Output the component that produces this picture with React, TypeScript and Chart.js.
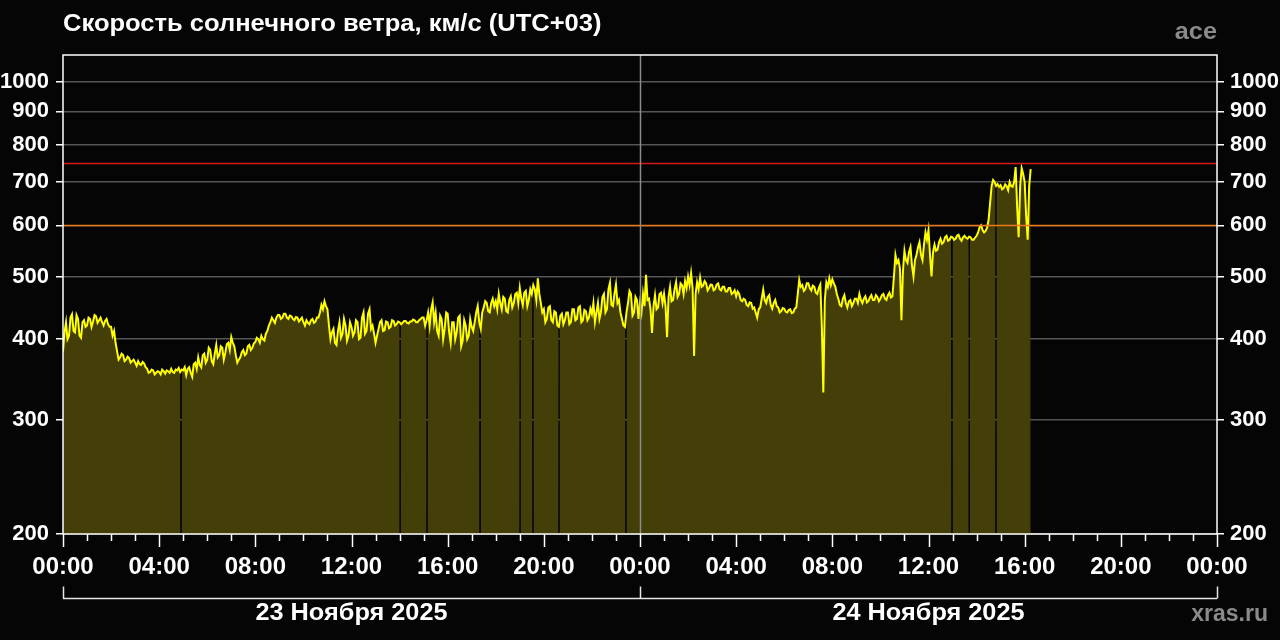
import React, { useEffect, useRef } from 'react';
import { Chart, registerables } from 'chart.js';

Chart.register(...registerables);

// ---- data ----
const chartTitle = 'Скорость солнечного ветра, км/с (UTC+03)';
const sourceLabel = 'ace';
const siteLabel = 'xras.ru';
const dayLabels = ['23 Ноября 2025', '24 Ноября 2025'];

// sample spacing in hours, first sample at 23 Nov 00:00 (UTC+03)
const stepHours = 0.0625;

// solar wind speed, km/s (16 samples per hour, one row per hour)
const speed = [
  383, 410, 425, 400, 405, 432, 437, 412, 410, 436, 430, 405, 402, 425, 428, 418,
  420, 432, 430, 418, 426, 436, 434, 424, 428, 432, 425, 420, 427, 430, 422, 418,
  418, 405, 412, 395, 383, 372, 375, 380, 378, 370, 372, 376, 374, 368, 370, 372,
  368, 364, 370, 366, 365, 369, 367, 362, 360, 355, 356, 359, 358, 353, 355, 357,
  356, 353, 359, 357, 354, 358, 357, 355, 360, 356, 355, 359, 358, 361, 356, 359,
  358, 362, 352, 360, 362, 355, 350, 366, 368, 360, 375, 365, 362, 378, 380, 368,
  372, 388, 385, 370, 366, 380, 392, 375, 378, 390, 388, 372, 381, 393, 395, 385,
  403, 395, 390, 378, 368, 372, 375, 382, 385, 378, 380, 390, 392, 385, 388, 394,
  396, 402, 400, 395, 405, 400, 398, 408, 412, 420, 425, 432, 428, 424, 432, 436,
  436, 430, 432, 438, 438, 432, 430, 435, 434, 430, 428, 433, 432, 426, 429, 432,
  425, 420, 428, 424, 422, 428, 430, 424, 426, 432, 432, 440, 452, 445, 458, 450,
  445, 420, 400, 410, 415, 395, 392, 412, 425, 402, 408, 430, 420, 398, 405, 425,
  418, 405, 410, 428, 425, 400, 402, 432, 440, 408, 412, 438, 445, 415, 420, 408,
  395, 405, 415, 425, 428, 412, 413, 426, 425, 416, 418, 428, 427, 420, 422, 426,
  425, 422, 424, 427, 427, 424, 423, 426, 426, 429, 428, 425, 425, 428, 430, 432,
  432, 420, 428, 440, 420, 445, 456, 425, 440, 412, 405, 435, 430, 400, 415, 440,
  438, 410, 395, 425, 425, 400, 410, 432, 435, 390, 398, 428, 420, 400, 405, 430,
  418, 412, 425, 440, 450, 425, 415, 440, 448, 458, 455, 442, 440, 455, 462, 450,
  458, 445, 470, 455, 445, 465, 462, 442, 440, 460, 466, 448, 455, 470, 472, 455,
  480, 462, 452, 472, 475, 450, 460, 478, 470, 485, 478, 460, 497, 470, 455, 440,
  445, 425, 430, 448, 450, 428, 425, 442, 440, 420, 418, 435, 438, 422, 428, 440,
  440, 422, 425, 445, 445, 428, 430, 448, 450, 425, 428, 444, 442, 428, 432, 446,
  438, 455, 425, 440, 455, 430, 440, 465, 470, 440, 445, 478, 489, 452, 450, 470,
  486, 455, 460, 440, 430, 420, 418, 440, 455, 475, 470, 435, 440, 465, 460, 430,
  455, 440, 470, 450, 503, 460, 462, 445, 409, 450, 468, 445, 448, 470, 472, 455,
  470, 450, 403, 465, 482, 458, 460, 478, 490, 465, 470, 488, 485, 470, 492, 480,
  500, 485, 506, 480, 377, 470, 490, 478, 498, 482, 484, 492, 488, 476, 480, 486,
  485, 476, 478, 486, 488, 478, 476, 482, 482, 474, 474, 480, 480, 470, 472, 476,
  466, 474, 470, 460, 458, 462, 460, 452, 450, 456, 455, 446, 448, 440, 432, 445,
  448, 462, 477, 460, 455, 465, 468, 452, 446, 455, 460, 450, 448, 440, 442, 447,
  446, 441, 440, 444, 445, 439, 440, 446, 448, 470, 494, 482, 485, 475, 478, 488,
  488, 480, 476, 484, 482, 472, 470, 480, 486, 420, 331, 460, 490, 482, 497, 485,
  495, 488, 482, 470, 462, 452, 450, 462, 468, 455, 448, 458, 460, 450, 455, 462,
  462, 455, 470, 460, 455, 462, 466, 456, 458, 464, 468, 460, 460, 468, 465, 458,
  462, 468, 470, 462, 460, 468, 472, 464, 466, 500, 540, 525, 530, 515, 428, 510,
  548, 530, 525, 545, 555, 520, 500, 530, 540, 555, 565, 540, 530, 560, 585, 570,
  590, 540, 500, 545, 560, 548, 550, 565, 572, 562, 565, 575, 578, 568, 570, 576,
  575, 570, 572, 578, 580, 572, 568, 575, 578, 574, 572, 576, 575, 570, 570, 574,
  578, 585, 596, 600, 590, 585, 588, 595, 612, 650, 690, 705, 700, 690, 695, 688,
  692, 682, 685, 694, 690, 680, 700, 690, 688, 700, 738, 640, 575, 690, 735, 720,
  700, 620, 570, 690, 733,
];

// hours (from 23 Nov 00:00) where data is missing
const gapHours = [4.91, 14.02, 15.14, 17.35, 19.01, 19.55, 20.63, 23.42, 36.98, 37.69, 38.81];

const yTickValues = [200, 300, 400, 500, 600, 700, 800, 900, 1000];
const xLabelHours = [0, 4, 8, 12, 16, 20, 24, 28, 32, 36, 40, 44, 48];
const thresholdValues = [600, 750];

// ---- styles ----
const FONT = '"Liberation Sans", Arial, sans-serif';
const BG = '#050505';
const FILL = 'rgb(68,62,8)';
const LINE = '#ffff00';
const GRID = '#555555';
const THRESH_COLORS = ['rgb(235,120,20)', 'rgb(215,25,25)'];
const GAP_HALF = 0.025; // half-width of a data gap, hours

const pad2 = (n: number) => (n < 10 ? '0' + n : String(n));

function stretchedText(ctx: CanvasRenderingContext2D, text: string, x: number, y: number, align: 'left' | 'right' | 'center', sx: number) {
  ctx.save();
  ctx.translate(x, y);
  ctx.scale(sx, 1);
  ctx.textAlign = align;
  ctx.textBaseline = 'middle';
  ctx.fillText(text, 0, 0);
  ctx.restore();
}

const decorPlugin = {
  id: 'decor',
  afterDatasetsDraw(chart: any) {
    const { ctx, chartArea: a, scales } = chart;
    const ys = scales.y;
    const xs = scales.x;
    ctx.save();
    thresholdValues.forEach((v, i) => {
      const py = Math.round(ys.getPixelForValue(v)) + 0.5;
      ctx.strokeStyle = THRESH_COLORS[i];
      ctx.lineWidth = 1.5;
      ctx.beginPath();
      ctx.moveTo(a.left, py);
      ctx.lineTo(a.right, py);
      ctx.stroke();
    });
    const mx = Math.round(xs.getPixelForValue(24)) + 0.5;
    ctx.strokeStyle = '#8c8c8c';
    ctx.lineWidth = 1.5;
    ctx.beginPath();
    ctx.moveTo(mx, a.top);
    ctx.lineTo(mx, a.bottom);
    ctx.stroke();
    ctx.strokeStyle = '#ffffff';
    ctx.lineWidth = 1.5;
    ctx.strokeRect(a.left, a.top, a.right - a.left, a.bottom - a.top);
    ctx.restore();
  },
  afterDraw(chart: any) {
    const { ctx, chartArea: a, scales } = chart;
    const xs = scales.x;
    ctx.save();
    ctx.strokeStyle = '#ffffff';
    ctx.lineWidth = 1.5;
    for (let h = 0; h <= 48; h++) {
      const px = Math.round(xs.getPixelForValue(h)) + 0.5;
      const len = h % 4 === 0 ? 13 : 7;
      ctx.beginPath();
      ctx.moveTo(px, a.bottom);
      ctx.lineTo(px, a.bottom + len);
      ctx.stroke();
    }
    const by = 598.5;
    ctx.strokeStyle = '#e6e6e6';
    ctx.beginPath();
    ctx.moveTo(xs.getPixelForValue(0), by);
    ctx.lineTo(xs.getPixelForValue(48), by);
    [0, 24, 48].forEach((h) => {
      const px = Math.round(xs.getPixelForValue(h)) + 0.5;
      ctx.moveTo(px, by);
      ctx.lineTo(px, by - 12);
    });
    ctx.stroke();
    ctx.fillStyle = '#ffffff';
    ctx.font = `bold 23px ${FONT}`;
    dayLabels.forEach((t, i) => {
      stretchedText(ctx, t, xs.getPixelForValue(12 + 24 * i), 614, 'center', 1.1);
    });
    stretchedText(ctx, chartTitle, a.left, 25, 'left', 1.11);
    ctx.fillStyle = '#8a8a8a';
    stretchedText(ctx, sourceLabel, a.right, 33, 'right', 1.1);
    stretchedText(ctx, siteLabel, 1268, 615, 'right', 1.0);
    ctx.restore();
  },
};

export default function App() {
  const ref = useRef<HTMLCanvasElement | null>(null);
  useEffect(() => {
    if (!ref.current) return;
    const linePts = speed.map((v, k) => ({ x: k * stepHours, y: v }));
    // area: break at each gap, holding the neighbouring readings up to the gap edges
    const fillPts: { x: number; y: number | null }[] = [];
    linePts.forEach((p, k) => {
      fillPts.push(p);
      const next = linePts[k + 1];
      if (!next) return;
      gapHours
        .filter((g) => g > p.x && g < next.x)
        .forEach((g) => {
          fillPts.push({ x: g - GAP_HALF, y: p.y });
          fillPts.push({ x: g, y: null });
          fillPts.push({ x: g + GAP_HALF, y: next.y });
        });
    });

    const yAxis = (position: 'left' | 'right', onArea: boolean, padding: number) => ({
      type: 'logarithmic' as const,
      position,
      min: 200,
      max: 1100,
      afterBuildTicks: (s: any) => {
        s.ticks = yTickValues.map((v) => ({ value: v }));
      },
      afterFit: (s: any) => {
        s.width = 63;
      },
      border: { display: false },
      grid: {
        drawOnChartArea: onArea,
        color: GRID,
        lineWidth: 1.5,
        tickColor: '#ffffff',
        tickLength: 7,
        tickWidth: 1.5,
      },
      ticks: {
        color: '#ffffff',
        font: { family: FONT, size: 22, weight: 'bold' as const },
        padding,
        autoSkip: false,
        callback: (v: any) => String(v),
      },
    });

    const chart = new Chart(ref.current, {
      type: 'line',
      data: {
        datasets: [
          {
            label: 'speed',
            data: linePts,
            borderColor: LINE,
            borderWidth: 2,
            pointRadius: 0,
            fill: false,
            tension: 0,
            yAxisID: 'y',
          },
          {
            label: 'area',
            data: fillPts,
            borderColor: 'rgba(0,0,0,0)',
            borderWidth: 0,
            pointRadius: 0,
            backgroundColor: FILL,
            fill: 'start',
            spanGaps: false,
            tension: 0,
            yAxisID: 'y',
          },
        ],
      },
      options: {
        animation: false,
        responsive: false,
        maintainAspectRatio: false,
        layout: { padding: { top: 55, left: 0, right: 0, bottom: 0 } },
        plugins: { legend: { display: false }, tooltip: { enabled: false }, title: { display: false } },
        scales: {
          x: {
            type: 'linear',
            min: 0,
            max: 48,
            afterBuildTicks: (s: any) => {
              s.ticks = xLabelHours.map((v) => ({ value: v }));
            },
            afterFit: (s: any) => {
              s.height = 106;
            },
            border: { display: false },
            grid: { display: false, drawTicks: false },
            ticks: {
              color: '#ffffff',
              font: { family: FONT, size: 24, weight: 'bold' },
              padding: 19,
              maxRotation: 0,
              autoSkip: false,
              callback: (v: any) => pad2(Number(v) % 24) + ':00',
            },
          },
          y: yAxis('left', true, 7),
          y2: yAxis('right', false, 6),
        },
      },
      plugins: [decorPlugin],
    });
    return () => chart.destroy();
  }, []);

  return (
    <div style={{ position: 'fixed', left: 0, top: 0, width: 1280, height: 640, background: BG }}>
      <canvas ref={ref} width={1280} height={640} style={{ display: 'block', width: 1280, height: 640 }} />
    </div>
  );
}
